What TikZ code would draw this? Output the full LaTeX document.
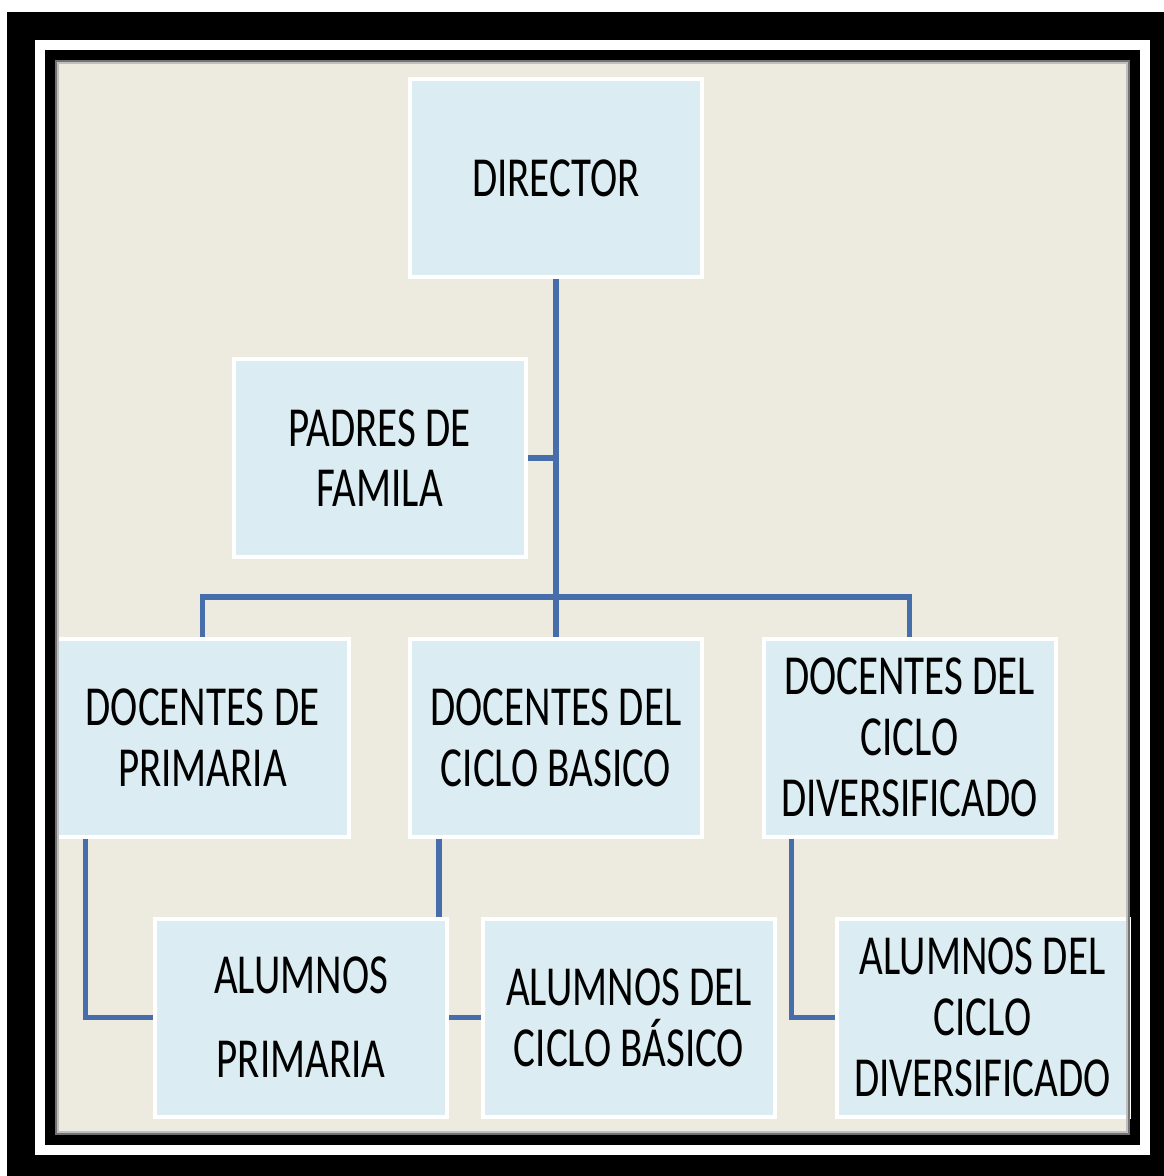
\documentclass[tikz,border=0pt]{standalone}
\usepackage{graphicx}
\usepackage{fontspec}
\setmainfont{Carlito}
\usepackage{tikz}
\definecolor{paper}{RGB}{237,235,224}
\definecolor{boxblue}{RGB}{219,237,243}
\definecolor{linkblue}{RGB}{70,110,170}
\newcommand{\boxtext}[1]{\scalebox{1}[1.38]{\parbox{285pt}{\centering #1}}}

\begin{document}
\begin{tikzpicture}[x=1pt,y=-1pt,
  orgbox/.style={draw=white,line width=4pt,fill=boxblue,minimum width=292pt,
    minimum height=198pt,inner sep=0pt,font=\fontsize{41}{44}\selectfont},
  link/.style={draw=linkblue,line width=5.5pt}]
  \useasboundingbox (0,0) rectangle (1164,1176);
  % Frame
  \fill[white] (0,0) rectangle (1164,1176);
  \fill[black] (7,12) rectangle (1164,1176);
  \fill[white] (35,40) rectangle (1150,1155);
  \fill[black] (45,50) rectangle (1140,1145);
  \fill[paper] (55,60) rectangle (1130,1135);
  % Boxes
  \node[orgbox] (dir) at (556,178) {\boxtext{DIRECTOR}};
  \node[orgbox] (padres) at (379.5,458) {\boxtext{PADRES DE\\FAMILA}};
  \node[orgbox] (docpri) at (202.5,737.5) {\boxtext{DOCENTES DE\\PRIMARIA}};
  \node[orgbox] (docbas) at (556,737.5) {\boxtext{DOCENTES DEL\\CICLO BASICO}};
  \node[orgbox] (docdiv) at (909.5,737.5) {\boxtext{DOCENTES DEL\\CICLO\\DIVERSIFICADO}};
  \node[orgbox] (alupri) at (301,1017.5) {\boxtext{ALUMNOS\\[17pt]PRIMARIA}};
  \node[orgbox] (alubas) at (629,1017.5) {\boxtext{ALUMNOS DEL\\CICLO BÁSICO}};
  \node[orgbox] (aludiv) at (982.5,1017.5) {\boxtext{ALUMNOS DEL\\CICLO\\DIVERSIFICADO}};
  % Connectors
  \coordinate (bus) at (556,597);
  \coordinate (pritap) at ([xshift=31pt]docpri.south west);
  \coordinate (bastap) at ([xshift=31pt]docbas.south west);
  \coordinate (divtap) at ([xshift=30pt]docdiv.south west);
  \draw[link] (dir.south) -- (docbas.north);
  \draw[link] (padres.east) -- (padres.east -| dir.south);
  \draw[link] (docpri.north) |- (bus) -| (docdiv.north);
  \draw[link] (pritap) |- (alupri.west);
  \draw[link] (bastap) -- (bastap |- alupri.north);
  \draw[link] (alupri.east) -- (alubas.west);
  \draw[link] (divtap) |- (aludiv.west);
  % Inner shadow of the frame
  \draw[black!55,line width=2pt] (56,61) rectangle (1129,1134);
  \draw[black!25,line width=2pt] (58,63) rectangle (1127,1132);
\end{tikzpicture}
\end{document}
